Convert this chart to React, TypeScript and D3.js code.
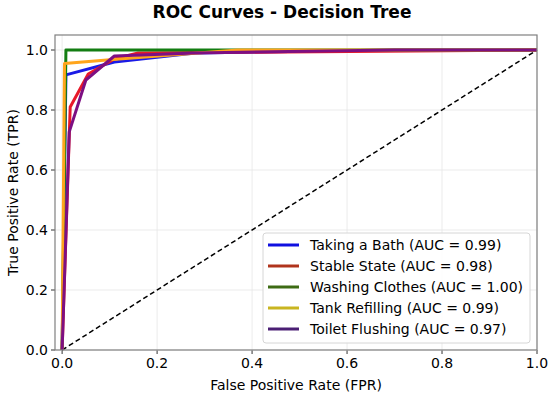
import React from "react";
import * as d3 from "d3";

const W = 550;
const H = 397;
const margin = { left: 55, right: 13, top: 35, bottom: 47 };

const xTicks = [0, 0.2, 0.4, 0.6, 0.8, 1.0];
const yTicks = [0, 0.2, 0.4, 0.6, 0.8, 1.0];

const labels = [
  "Taking a Bath (AUC = 0.99)",
  "Stable State (AUC = 0.98)",
  "Washing Clothes (AUC = 1.00)",
  "Tank Refilling (AUC = 0.99)",
  "Toilet Flushing (AUC = 0.97)",
];
const lineColors = ["#1a1ae6", "#e8192a", "#137d12", "#ffa51c", "#7d0f82"];
const legendColors = ["#1010e0", "#b0341c", "#3d6b14", "#c9b520", "#4b1f74"];

const bathFpr = [0, 0.008, 0.11, 0.28, 0.7, 1];
const bathTpr = [0, 0.917, 0.96, 0.99, 1.0, 1];
const stableFpr = [0, 0.017, 0.055, 0.11, 0.16, 1];
const stableTpr = [0, 0.81, 0.92, 0.97, 0.99, 1];
const washFpr = [0, 0.008, 1];
const washTpr = [0, 1.0, 1];
const tankFpr = [0, 0.005, 0.12, 0.37, 1];
const tankTpr = [0, 0.955, 0.97, 1.0, 1];
const toiletFpr = [0, 0.015, 0.05, 0.11, 0.28, 0.7, 1];
const toiletTpr = [0, 0.727, 0.9, 0.98, 0.99, 1.0, 1];

const fprs = [bathFpr, stableFpr, washFpr, tankFpr, toiletFpr];
const tprs = [bathTpr, stableTpr, washTpr, tankTpr, toiletTpr];

const font = "DejaVu Sans, sans-serif";

export default function App() {
  const x = d3.scaleLinear().domain([-0.015, 1]).range([margin.left, W - margin.right]);
  const y = d3.scaleLinear().domain([0, 1.05]).range([H - margin.bottom, margin.top]);
  const line = d3.line<[number, number]>().x(d => x(d[0])).y(d => y(d[1]));

  const curves = fprs.map((f, i) => {
    const pts: [number, number][] = f.map((v, j) => [v, tprs[i][j]]);
    return (
      <path key={i} d={line(pts) || ""} fill="none" stroke={lineColors[i]}
        strokeWidth={3} strokeLinejoin="round" />
    );
  });

  const x0 = margin.left, x1 = W - margin.right;
  const y0 = H - margin.bottom, y1 = margin.top;

  return (
    <svg width={W} height={H} style={{ position: "absolute", left: 0, top: 0 }} fontFamily={font}>
      <rect width={W} height={H} fill="#fff" />
      <text x={282} y={18} textAnchor="middle" fontSize={17} fontWeight="bold">
        ROC Curves - Decision Tree
      </text>
      {xTicks.map(t => (
        <g key={"x" + t}>
          <line x1={x(t)} x2={x(t)} y1={y0} y2={y1} stroke="#e6e6e6" strokeWidth={0.8} />
          <line x1={x(t)} x2={x(t)} y1={y0} y2={y0 + 4} stroke="#333" />
          <text x={x(t)} y={y0 + 18} textAnchor="middle" fontSize={14}>{t.toFixed(1)}</text>
        </g>
      ))}
      {yTicks.map(t => (
        <g key={"y" + t}>
          <line x1={x0} x2={x1} y1={y(t)} y2={y(t)} stroke="#e6e6e6" strokeWidth={0.8} />
          <line x1={x0 - 4} x2={x0} y1={y(t)} y2={y(t)} stroke="#333" />
          <text x={x0 - 7} y={y(t) + 5} textAnchor="end" fontSize={14}>{t.toFixed(1)}</text>
        </g>
      ))}
      <line x1={x(0)} y1={y(0)} x2={x(1)} y2={y(1)} stroke="#000" strokeWidth={1.5} strokeDasharray="5,3" />
      {curves}
      <rect x={x0} y={y1} width={x1 - x0} height={y0 - y1} fill="none" stroke="#808080" strokeWidth={1.2} />
      <text x={(x0 + x1) / 2} y={390} textAnchor="middle" fontSize={14}>False Positive Rate (FPR)</text>
      <text transform={`translate(18,${(y0 + y1) / 2}) rotate(-90)`} textAnchor="middle" fontSize={14}>
        True Positive Rate (TPR)
      </text>
      <g>
        <rect x={263} y={233} width={267} height={110} rx={3} fill="#fff" fillOpacity={0.85} stroke="#d6d6d6" />
        {labels.map((l, i) => (
          <g key={l}>
            <line x1={268} x2={299} y1={245 + i * 21} y2={245 + i * 21} stroke={legendColors[i]} strokeWidth={3} />
            <text x={310} y={250 + i * 21} fontSize={14}>{l}</text>
          </g>
        ))}
      </g>
    </svg>
  );
}
